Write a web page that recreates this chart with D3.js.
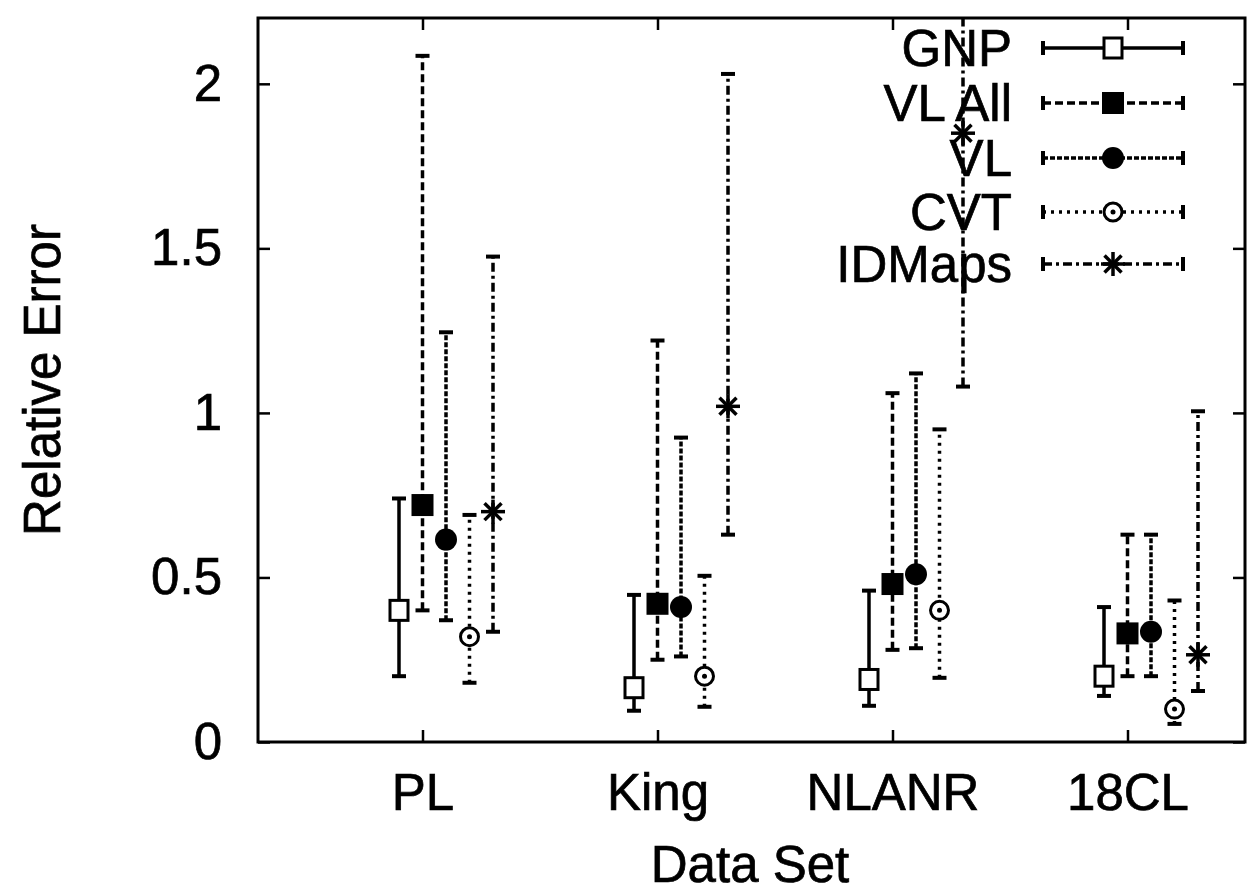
<!DOCTYPE html>
<html>
<head>
<meta charset="utf-8">
<script src="https://cdn.jsdelivr.net/npm/d3@7"></script>
<style>
  body { margin: 0; background: #fff; }
  text { font-family: "Liberation Sans", Arial, Helvetica, sans-serif; fill: #000; stroke: #000; stroke-width: 0.7px; }
</style>
</head>
<body>
<div id="chart"></div>
<script>
// Data: median with lower / upper error bar per data set
const categories = ["PL", "King", "NLANR", "18CL"];
const seriesNames = ["GNP", "VL All", "VL", "CVT", "IDMaps"];
const yTicks = [0, 0.5, 1, 1.5, 2];

const gnpMid  = [0.40, 0.165, 0.19, 0.20];
const gnpLow  = [0.20, 0.095, 0.11, 0.14];
const gnpHigh = [0.74, 0.447, 0.46, 0.41];

const vlAllMid  = [0.72, 0.42, 0.48, 0.33];
const vlAllLow  = [0.40, 0.25, 0.28, 0.20];
const vlAllHigh = [2.085, 1.22, 1.06, 0.63];

const vlMid  = [0.615, 0.41, 0.51, 0.335];
const vlLow  = [0.37, 0.26, 0.285, 0.20];
const vlHigh = [1.245, 0.925, 1.12, 0.63];

const cvtMid  = [0.32, 0.20, 0.40, 0.10];
const cvtLow  = [0.18, 0.107, 0.195, 0.055];
const cvtHigh = [0.69, 0.505, 0.95, 0.43];

const idmMid  = [0.70, 1.02, 1.85, 0.265];
const idmLow  = [0.335, 0.63, 1.08, 0.155];
const idmHigh = [1.475, 2.03, 2.40, 1.005];

// Set up dimensions
var width = 1249, height = 893;
var margin = { top: 18, right: 4, bottom: 151, left: 258 };
var fontSize = "51px";

var svg = d3.select("#chart").append("svg")
    .attr("width", width)
    .attr("height", height);

var x = d3.scaleLinear().domain([-0.7, 3.5]).range([margin.left, width - margin.right]);
var y = d3.scaleLinear().domain([0, 2.2]).range([height - margin.bottom, margin.top]);

var styles = [
    { dash: null,        marker: "openSquare" },
    { dash: "8,4",       marker: "filledSquare" },
    { dash: "5,2",       marker: "filledCircle" },
    { dash: "3,5",       marker: "dotCircle" },
    { dash: "9,4,3,4",   marker: "star" }
];
var mids = [gnpMid, vlAllMid, vlMid, cvtMid, idmMid];
var lows = [gnpLow, vlAllLow, vlLow, cvtLow, idmLow];
var highs = [gnpHigh, vlAllHigh, vlHigh, cvtHigh, idmHigh];

var series = seriesNames.map(function(name, i) {
    return {
        name: name, dash: styles[i].dash, marker: styles[i].marker, offset: (i - 1) * 0.1,
        values: categories.map(function(c, j) {
            return { cat: j, mid: mids[i][j], low: lows[i][j], high: highs[i][j] };
        })
    };
});

svg.append("clipPath").attr("id", "plotclip")
  .append("rect")
    .attr("x", x.range()[0]).attr("y", y.range()[1])
    .attr("width", x.range()[1] - x.range()[0])
    .attr("height", y.range()[0] - y.range()[1]);

function drawMarker(g, type) {
    if (type === "openSquare") {
        g.append("rect").attr("x", -9).attr("y", -10).attr("width", 18).attr("height", 20)
            .attr("fill", "#fff").attr("stroke", "#000").attr("stroke-width", 3);
    } else if (type === "filledSquare") {
        g.append("rect").attr("x", -11).attr("y", -11).attr("width", 22).attr("height", 22)
            .attr("fill", "#000");
    } else if (type === "filledCircle") {
        g.append("circle").attr("r", 11).attr("fill", "#000");
    } else if (type === "dotCircle") {
        g.append("circle").attr("r", 9).attr("fill", "#fff").attr("stroke", "#000").attr("stroke-width", 3);
        g.append("circle").attr("r", 2.5).attr("fill", "#000");
    } else if (type === "star") {
        [0, 45, 90, 135].forEach(function(a) {
            g.append("line").attr("x1", -12).attr("x2", 12)
                .attr("transform", "rotate(" + a + ")")
                .attr("stroke", "#000").attr("stroke-width", 3.5);
        });
    }
}

// Error bars
var plot = svg.append("g").attr("clip-path", "url(#plotclip)");
series.forEach(function(s) {
    var g = plot.append("g").attr("class", "series");
    s.values.forEach(function(d) {
        var cx = x(d.cat + s.offset);
        g.append("line")
            .attr("x1", cx).attr("x2", cx)
            .attr("y1", y(d.low)).attr("y2", y(d.high))
            .attr("stroke", "#000").attr("stroke-width", 3.5)
            .attr("stroke-dasharray", s.dash);
        [d.low, d.high].forEach(function(v) {
            g.append("line")
                .attr("x1", cx - 7).attr("x2", cx + 7)
                .attr("y1", y(v)).attr("y2", y(v))
                .attr("stroke", "#000").attr("stroke-width", 4);
        });
        drawMarker(g.append("g").attr("transform", "translate(" + cx + "," + y(d.mid) + ")"), s.marker);
    });
});

// Axes (ticks pointing inward, mirrored on top and right)
svg.append("g")
    .attr("class", "x-axis")
    .attr("transform", "translate(0," + y.range()[0] + ")")
    .call(d3.axisBottom(x).tickValues([0, 1, 2, 3])
        .tickFormat(function(i) { return categories[i]; })
        .tickSizeInner(-12).tickSizeOuter(0));
svg.selectAll(".x-axis .tick text").attr("y", 68).attr("dy", 0);

svg.append("g")
    .attr("transform", "translate(0," + y.range()[1] + ")")
    .call(d3.axisTop(x).tickValues([0, 1, 2, 3]).tickFormat("").tickSizeInner(-12).tickSizeOuter(0));
svg.append("g")
    .attr("class", "y-axis")
    .attr("transform", "translate(" + x.range()[0] + ",0)")
    .call(d3.axisLeft(y).tickValues(yTicks).tickFormat(d3.format(""))
        .tickSizeInner(-12).tickSizeOuter(0).tickPadding(36));
svg.append("g")
    .attr("transform", "translate(" + x.range()[1] + ",0)")
    .call(d3.axisRight(y).tickValues(yTicks).tickFormat("").tickSizeInner(-12).tickSizeOuter(0));

svg.selectAll(".domain").remove();
svg.selectAll(".tick line").attr("stroke", "#000").attr("stroke-width", 2.5);
svg.selectAll(".tick text").style("font-size", fontSize).attr("fill", "#000");

svg.append("rect")
    .attr("x", x.range()[0]).attr("y", y.range()[1])
    .attr("width", x.range()[1] - x.range()[0])
    .attr("height", y.range()[0] - y.range()[1])
    .attr("fill", "none").attr("stroke", "#000").attr("stroke-width", 3);

// Axis titles
svg.append("text")
    .attr("transform", "translate(60,380) rotate(-90)")
    .attr("text-anchor", "middle")
    .style("font-size", fontSize)
    .text("Relative Error");

svg.append("text")
    .attr("x", 750)
    .attr("y", 882)
    .attr("text-anchor", "middle")
    .style("font-size", fontSize)
    .text("Data Set");

// Legend
var legendRows = [48, 103, 158, 212, 264];
var legend = svg.selectAll(".legend")
    .data(series)
    .enter().append("g")
    .attr("class", "legend")
    .attr("transform", function(d, i) { return "translate(0," + legendRows[i] + ")"; });

legend.append("text")
    .attr("x", 1012)
    .attr("dy", "0.36em")
    .attr("text-anchor", "end")
    .style("font-size", fontSize)
    .text(function(d) { return d.name; });

legend.append("line")
    .attr("x1", 1043).attr("x2", 1183)
    .attr("stroke", "#000").attr("stroke-width", 3.5)
    .attr("stroke-dasharray", function(d) { return d.dash; });

legend.each(function(d) {
    var g = d3.select(this);
    [1043, 1183].forEach(function(lx) {
        g.append("line").attr("x1", lx).attr("x2", lx).attr("y1", -7).attr("y2", 7)
            .attr("stroke", "#000").attr("stroke-width", 4);
    });
    drawMarker(g.append("g").attr("transform", "translate(1113,0)"), d.marker);
});
</script>
</body>
</html>
